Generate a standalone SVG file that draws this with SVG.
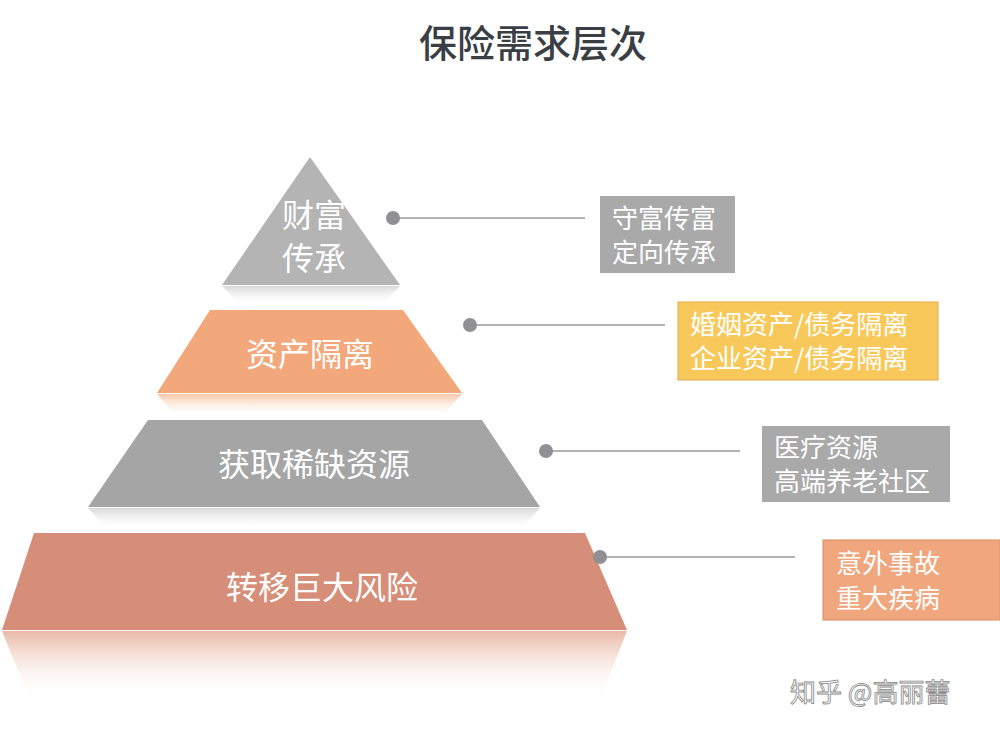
<svg xmlns="http://www.w3.org/2000/svg" width="1000" height="734" viewBox="0 0 1000 734">
<style>
text{font-family:"Noto Sans CJK SC","Liberation Sans",sans-serif}
.t{fill:#fff;font-size:32px;text-anchor:middle}
.b{fill:#fff;font-size:26px}
.c{stroke:#9a9a9a;stroke-width:1.5}
.d{fill:#8f8f94}
</style>
<defs>
<linearGradient id="rg" x1="0" y1="0" x2="0" y2="1"><stop offset="0" stop-color="#d8d8d8"/><stop offset="1" stop-color="#fff" stop-opacity="0"/></linearGradient>
<linearGradient id="ro" x1="0" y1="0" x2="0" y2="1"><stop offset="0" stop-color="#f6c7a8"/><stop offset="1" stop-color="#fff" stop-opacity="0"/></linearGradient>
<linearGradient id="rr" x1="0" y1="0" x2="0" y2="1"><stop offset="0" stop-color="#eab9a6"/><stop offset="1" stop-color="#fff" stop-opacity="0"/></linearGradient>
</defs>
<rect width="1000" height="734" fill="#fff"/>
<text x="533" y="57" font-size="38" font-weight="500" fill="#3a3f45" text-anchor="middle">保险需求层次</text>
<g id="tier1">
<polygon points="222,286 400,286 380,306 242,306" fill="url(#rg)"/>
<polygon points="310,157 400,285 222,285" fill="#b4b4b4"/>
<text class="t" x="314" y="227">财富</text><text class="t" x="314" y="270">传承</text>
</g>
<g id="tier2">
<polygon points="157,394 462,394 440,418 178,418" fill="url(#ro)"/>
<polygon points="210,310 403,310 462,393 157,393" fill="#f3a87b"/>
<text class="t" x="310" y="366">资产隔离</text>
</g>
<g id="tier3">
<polygon points="88,508 540,508 520,530 108,530" fill="url(#rg)"/>
<polygon points="148,420 482,420 540,507 88,507" fill="#a5a5a5"/>
<text class="t" x="314" y="476">获取稀缺资源</text>
</g>
<g id="tier4">
<polygon points="2,631 627,631 600,700 30,700" fill="url(#rr)"/>
<polygon points="34,533 585,533 627,630 2,630" fill="#d68e79"/>
<text class="t" x="322" y="599">转移巨大风险</text>
</g>
<g id="connectors">
<line class="c" x1="393" y1="218" x2="585" y2="218"/><circle class="d" cx="393" cy="218" r="7"/>
<line class="c" x1="470" y1="325" x2="665" y2="325"/><circle class="d" cx="470" cy="325" r="7"/>
<line class="c" x1="546" y1="451" x2="740" y2="451"/><circle class="d" cx="546" cy="451" r="7"/>
<line class="c" x1="600" y1="557" x2="795" y2="557"/><circle class="d" cx="600" cy="557" r="7"/>
</g>
<g id="box1"><rect x="600" y="196" width="135" height="77" fill="#a9a9a9"/>
<text class="b" x="612" y="228">守富传富</text><text class="b" x="612" y="262">定向传承</text></g>
<g id="box2"><rect x="678" y="302" width="260" height="78" fill="#f8c95a" stroke="#e0a94a"/>
<text class="b" x="690" y="334">婚姻资产/债务隔离</text><text class="b" x="690" y="368">企业资产/债务隔离</text></g>
<g id="box3"><rect x="762" y="426" width="188" height="76" fill="#a9a9a9"/>
<text class="b" x="774" y="457">医疗资源</text><text class="b" x="774" y="491">高端养老社区</text></g>
<g id="box4"><rect x="823" y="540" width="177" height="80" fill="#f1a77e" stroke="#d98e66"/>
<text class="b" x="836" y="573">意外事故</text><text class="b" x="836" y="608">重大疾病</text></g>
<text x="790" y="702" font-size="26" fill="#fff" stroke="#888" stroke-width="0.8">知乎 @高丽蕾</text>
</svg>
